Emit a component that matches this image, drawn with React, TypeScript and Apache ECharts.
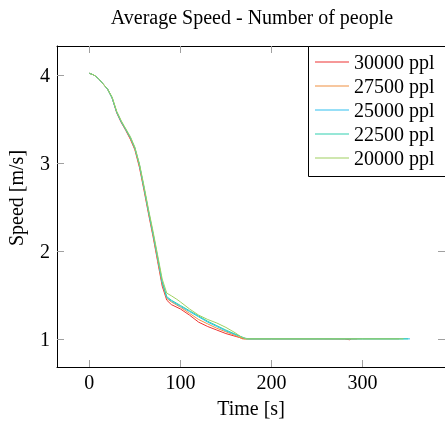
import React, { useEffect, useRef } from "react";
import * as echarts from "echarts";

const seriesNames = ["30000 ppl", "27500 ppl", "25000 ppl", "22500 ppl", "20000 ppl"];
const seriesColors = ["#ee3333", "#f09040", "#30c0f0", "#30d0b0", "#a0d060"];

const ppl30000: [number, number][] = [
  [0, 4.02], [5, 4.0], [10, 3.96], [15, 3.9], [20, 3.84], [25, 3.74], [30, 3.57], [35, 3.46],
  [40, 3.37], [45, 3.27], [50, 3.15], [55, 2.95], [60, 2.69], [65, 2.42], [70, 2.16], [75, 1.88],
  [80, 1.6], [85, 1.44], [90, 1.39], [100, 1.34], [110, 1.27], [120, 1.19], [130, 1.14], [140, 1.1],
  [150, 1.06], [160, 1.03], [170, 1.0], [180, 1.0], [200, 1.0], [250, 1.0], [280, 0.998], [286, 0.99],
  [288, 1.0], [294, 1.0],
];
const ppl27500: [number, number][] = [
  [0, 4.02], [5, 4.0], [10, 3.96], [15, 3.9], [20, 3.84], [25, 3.74], [30, 3.58], [35, 3.47],
  [40, 3.38], [45, 3.28], [50, 3.16], [55, 2.97], [60, 2.71], [65, 2.44], [70, 2.18], [75, 1.9],
  [80, 1.63], [85, 1.46], [90, 1.42], [100, 1.36], [110, 1.29], [120, 1.22], [130, 1.17], [140, 1.12],
  [150, 1.08], [160, 1.04], [168, 1.0], [200, 1.0], [250, 1.0], [300, 1.0], [340, 1.0],
];
const ppl25000: [number, number][] = [
  [0, 4.02], [5, 4.0], [10, 3.96], [15, 3.9], [20, 3.84], [25, 3.74], [30, 3.58], [35, 3.47],
  [40, 3.38], [45, 3.29], [50, 3.17], [55, 2.98], [60, 2.72], [65, 2.45], [70, 2.19], [75, 1.92],
  [80, 1.64], [85, 1.47], [90, 1.43], [100, 1.37], [110, 1.31], [120, 1.25], [130, 1.19], [140, 1.14],
  [150, 1.09], [160, 1.05], [170, 1.01], [175, 1.0], [200, 1.0], [250, 1.0], [300, 1.0], [352, 1.0],
];
const ppl22500: [number, number][] = [
  [0, 4.02], [5, 4.0], [10, 3.96], [15, 3.9], [20, 3.84], [25, 3.74], [30, 3.58], [35, 3.47],
  [40, 3.38], [45, 3.29], [50, 3.17], [55, 2.98], [60, 2.72], [65, 2.45], [70, 2.2], [75, 1.93],
  [80, 1.65], [85, 1.48], [90, 1.44], [100, 1.38], [110, 1.32], [120, 1.26], [130, 1.2], [140, 1.15],
  [150, 1.1], [160, 1.055], [172, 1.0], [200, 1.0], [250, 1.0], [300, 1.0], [350, 1.0],
];
const ppl20000: [number, number][] = [
  [0, 4.02], [5, 4.0], [10, 3.96], [15, 3.9], [20, 3.84], [25, 3.75], [30, 3.59], [35, 3.48],
  [40, 3.39], [45, 3.3], [50, 3.18], [55, 2.99], [60, 2.74], [65, 2.47], [70, 2.22], [75, 1.95],
  [80, 1.68], [85, 1.52], [90, 1.49], [96, 1.45], [100, 1.42], [110, 1.34], [120, 1.27], [130, 1.22],
  [140, 1.18], [150, 1.13], [160, 1.07], [167, 1.02], [173, 1.0], [200, 1.0], [250, 1.0], [300, 1.0],
  [345, 1.0],
];
const seriesData = [ppl30000, ppl27500, ppl25000, ppl22500, ppl20000];

const xTicks = [0, 100, 200, 300];
const yTicks = [1, 2, 3, 4];

const titleText = "Average Speed - Number of people";
const xName = "Time [s]";
const yName = "Speed [m/s]";

const FONT = "Liberation Serif";
const FS = 20;

export default function App() {
  const ref = useRef<HTMLDivElement>(null);
  useEffect(() => {
    if (!ref.current) return;
    const chart = echarts.init(ref.current, undefined, { renderer: "svg" });
    const tickStyle = { show: true, inside: true, length: 7, lineStyle: { color: "#a0a0a0", width: 1 } };
    const baseX = {
      type: "value" as const,
      min: -35.5,
      max: 390.5,
      splitLine: { show: false },
      axisLine: { show: true, onZero: false, lineStyle: { color: "#000", width: 1 } },
    };
    const baseY = {
      type: "value" as const,
      min: 0.68,
      max: 4.33,
      splitLine: { show: false },
      axisLine: { show: true, onZero: false, lineStyle: { color: "#000", width: 1 } },
    };
    chart.setOption({
      animation: false,
      grid: { left: 57, top: 46, width: 391, height: 323, containLabel: false },
      xAxis: [
        {
          ...baseX,
          position: "bottom",
          name: xName,
          nameLocation: "middle",
          nameGap: 31,
          nameTextStyle: { fontFamily: FONT, fontSize: FS, color: "#000" },
          axisTick: { ...tickStyle, customValues: xTicks },
          axisLabel: { show: true, customValues: xTicks, margin: 5, fontFamily: FONT, fontSize: FS, color: "#000" },
        },
        {
          ...baseX,
          position: "top",
          axisTick: { ...tickStyle, customValues: xTicks },
          axisLabel: { show: false },
        },
      ],
      yAxis: [
        {
          ...baseY,
          position: "left",
          axisTick: { ...tickStyle, customValues: yTicks },
          axisLabel: { show: true, customValues: yTicks, margin: 7, fontFamily: FONT, fontSize: FS, color: "#000" },
        },
        {
          ...baseY,
          position: "right",
          axisTick: { ...tickStyle, customValues: yTicks },
          axisLabel: { show: false },
        },
      ],
      legend: {
        orient: "vertical",
        left: 308,
        top: 46,
        padding: [6, 10, 8, 7],
        itemWidth: 34,
        itemHeight: 14,
        itemGap: 4,
        icon: "path://M0,0 L34,0 L34,1 L0,1 Z",
        symbolKeepAspect: true,
        z: 10,
        textStyle: { fontFamily: FONT, fontSize: FS, color: "#000" },
        data: seriesNames,
      },
      graphic: [
        {
          type: "rect",
          z: 5,
          shape: { x: 308.5, y: 46.5, width: 200, height: 130 },
          style: { fill: "#fff", stroke: "#000", lineWidth: 1 },
        },
        {
          type: "text",
          x: 252,
          y: 17,
          style: { text: titleText, fontFamily: FONT, fontSize: FS, fill: "#000", textAlign: "center", textVerticalAlign: "middle" },
        },
        {
          type: "text",
          x: 16,
          y: 198,
          rotation: Math.PI / 2,
          style: { text: yName, fontFamily: FONT, fontSize: FS, fill: "#000", textAlign: "center", textVerticalAlign: "middle" },
        },
      ],
      series: seriesNames.map((name, i) => ({
        name,
        type: "line",
        data: seriesData[i],
        showSymbol: false,
        symbol: "none",
        lineStyle: { width: 1, color: seriesColors[i] },
        itemStyle: { color: seriesColors[i] },
        xAxisIndex: 0,
        yAxisIndex: 0,
      })),
    });
    return () => chart.dispose();
  }, []);
  return <div ref={ref} style={{ position: "fixed", left: 0, top: 0, width: 445, height: 423 }} />;
}
